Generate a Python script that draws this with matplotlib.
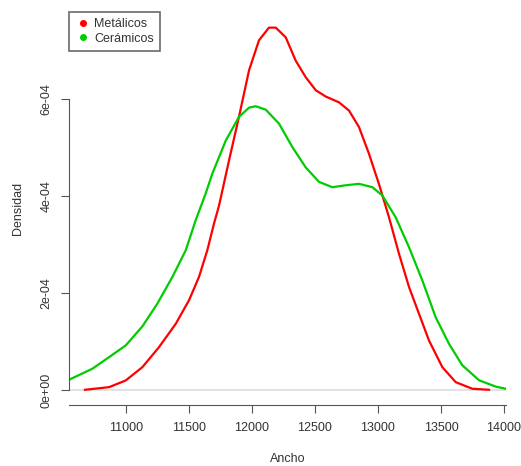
import numpy as np
import matplotlib.pyplot as plt

plt.rcParams['font.family'] = ['Liberation Sans', 'DejaVu Sans']

# density curves
x_met = [10677, 10868, 11000, 11132, 11264, 11397, 11502, 11581, 11647, 11700,
         11740, 11819, 11898, 11978, 12057, 12136, 12190, 12269, 12348, 12427,
         12507, 12586, 12691, 12771, 12850, 12929, 13009, 13088, 13167, 13247,
         13326, 13405, 13511, 13617, 13749, 13881]
d_met = [1.4e-6, 6.8e-6, 2.06e-5, 4.8e-5, 8.93e-5, 1.375e-4, 1.86e-4, 2.34e-4, 2.89e-4, 3.44e-4,
         3.81e-4, 4.74e-4, 5.64e-4, 6.6e-4, 7.22e-4, 7.48e-4, 7.48e-4, 7.28e-4, 6.8e-4, 6.46e-4,
         6.19e-4, 6.06e-4, 5.94e-4, 5.77e-4, 5.43e-4, 4.88e-4, 4.25e-4, 3.57e-4, 2.82e-4, 2.13e-4,
         1.58e-4, 1.03e-4, 4.8e-5, 1.71e-5, 3.5e-6, 1.4e-6]

x_cer = [10550, 10735, 10868, 11000, 11132, 11251, 11370, 11476, 11555, 11634,
         11687, 11793, 11898, 11978, 12031, 12110, 12216, 12321, 12427, 12533,
         12638, 12745, 12850, 12956, 13035, 13141, 13247, 13352, 13458, 13564,
         13669, 13802, 13934, 14013]
d_cer = [2.2e-5, 4.47e-5, 6.87e-5, 9.28e-5, 1.32e-4, 1.79e-4, 2.34e-4, 2.89e-4, 3.51e-4, 4.06e-4,
         4.47e-4, 5.15e-4, 5.64e-4, 5.83e-4, 5.86e-4, 5.79e-4, 5.5e-4, 5.02e-4, 4.6e-4, 4.3e-4,
         4.19e-4, 4.23e-4, 4.26e-4, 4.19e-4, 4.02e-4, 3.57e-4, 2.95e-4, 2.27e-4, 1.51e-4, 9.6e-5,
         5.2e-5, 2.1e-5, 8e-6, 3.5e-6]

xticks = [11000, 11500, 12000, 12500, 13000, 13500, 14000]
yticks = [0, 2e-4, 4e-4, 6e-4]
ylabels = ['0e+00', '2e-04', '4e-04', '6e-04']

fig = plt.figure(figsize=(5.21, 4.66), dpi=100)
ax = fig.add_axes([0.1324, 0.1309, 0.971 - 0.1324, 0.974 - 0.1309])

ax.axhline(0, color='#dddddd', lw=1.2, zorder=0)
ax.plot(x_met, d_met, color='#ff0000', lw=1.6, solid_joinstyle='round', label='Metálicos')
ax.plot(x_cer, d_cer, color='#00cd00', lw=1.6, solid_joinstyle='round', label='Cerámicos')

ax.set_xlim(10550, 14015)
ax.set_ylim(-3e-5, 7.8e-4)
ax.set_xticks(xticks)
ax.set_yticks(yticks)
ax.set_yticklabels(ylabels, rotation=90, va='center')

for s in ['top', 'right']:
    ax.spines[s].set_visible(False)
ax.spines['left'].set_bounds(0, 6e-4)
for s in ['left', 'bottom']:
    ax.spines[s].set_color('#555555')
ax.tick_params(colors='#555555', labelcolor='#333333', length=6, labelsize=9, pad=6)

ax.set_xlabel('Ancho', fontsize=9, color='#333333', labelpad=14)
ax.set_ylabel('Densidad', fontsize=9, color='#333333', labelpad=12)

leg = ax.legend(loc='upper left', handles=[
    plt.Line2D([], [], ls='', marker='o', ms=4, color='#ff0000', label='Metálicos'),
    plt.Line2D([], [], ls='', marker='o', ms=4, color='#00cd00', label='Cerámicos')],
    fontsize=9, frameon=True, fancybox=False, borderaxespad=0, handletextpad=0.3,
    handlelength=1.2, labelspacing=0.2, borderpad=0.5)
leg.get_frame().set_edgecolor('#444444')
leg.get_frame().set_linewidth(1.2)
for t in leg.get_texts():
    t.set_color('#333333')

plt.savefig('out.png', dpi=100)
